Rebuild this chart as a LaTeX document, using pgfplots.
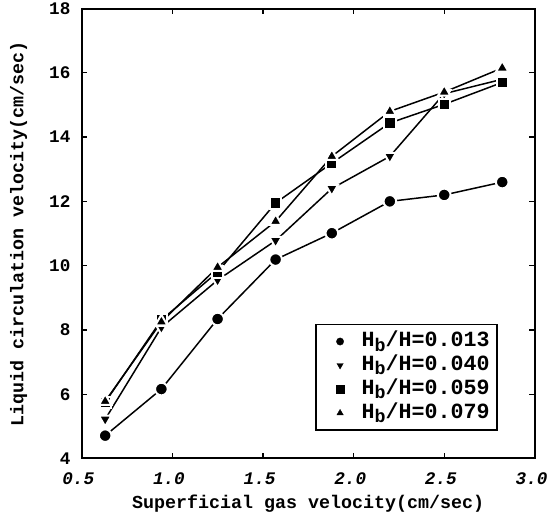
\documentclass[border={2.5pt 1.3pt -3.2pt -2pt}]{standalone}
\usepackage{fontspec}
\setmainfont{Liberation Mono}
\usepackage{pgfplots}
\pgfplotsset{compat=1.18}
\newcommand{\Hb}{H{\fontsize{11}{11}\selectfont\raisebox{-0.45ex}{b}}/H}
\begin{document}
\fontsize{10.6}{12}\selectfont\bfseries
\begin{tikzpicture}
\begin{axis}[
    width=272pt, height=270pt, scale only axis,
    xmin=0.5, xmax=3.0, ymin=4, ymax=18,
    xtick={0.5,1.0,1.5,2.0,2.5,3.0},
    ytick={4,6,8,10,12,14,16,18},
    xticklabel style={/pgf/number format/.cd, fixed, fixed zerofill, precision=1,
        /tikz/.cd, yshift=-5pt, xshift=-2pt, font=\fontsize{10.6}{12}\selectfont\bfseries\itshape},
    yticklabel style={xshift=-3pt},
    /pgf/number format/assume math mode=true,
    tick align=inside,
    major tick length=3.5pt,
    axis line style={line width=1.2pt},
    tick style={line width=0.8pt, black},
    xlabel={Superficial gas velocity(cm/sec)},
    ylabel={Liquid circulation velocity(cm/sec)},
    xlabel style={at={(axis description cs:0.5,-0.101)}, anchor=center, font=\fontsize{11}{12}\selectfont\bfseries},
    ylabel style={at={(axis description cs:-0.139,0.5)}, anchor=center, font=\fontsize{11}{12}\selectfont\bfseries},
    legend style={at={(0.918,0.062)}, anchor=south east, draw=black, line width=0.8pt,
        font=\fontsize{13}{14}\selectfont\bfseries, row sep=0pt, inner sep=3pt,
        nodes={inner sep=1.5pt, text height=8.8pt, text depth=2.5pt}},
    legend cell align=left,
    legend image code/.code={
        \draw[#1, draw=none, mark size=2.2pt, every mark/.append style={draw=black, line width=0.2pt}]
            plot coordinates {(0.4cm,0cm)};
        \path[draw=none] (0,0) -- (0.8cm,0);},
    every axis plot/.append style={black, line width=0.9pt},
]
\addplot[mark=*, mark size=3.8pt, mark options={draw=white, fill=black, line width=1.2pt}]
    coordinates {(0.63,4.71) (0.94,6.16) (1.25,8.34) (1.57,10.19) (1.88,11.01) (2.2,12.0) (2.5,12.2) (2.82,12.6)};
\addplot[mark=triangle*, mark size=4.3pt, mark options={rotate=180, draw=white, fill=black, line width=1.2pt}]
    coordinates {(0.63,5.22) (0.94,8.08) (1.25,9.55) (1.57,10.78) (1.88,12.4) (2.2,13.4) (2.5,15.35) (2.82,15.8)};
\addplot[mark=square*, mark size=3.4pt, mark options={draw=white, fill=black, line width=1.2pt}]
    coordinates {(0.63,5.75) (0.94,8.31) (1.25,9.8) (1.57,11.95) (1.88,13.19) (2.2,14.44) (2.5,15.02) (2.82,15.7)};
\addplot[mark=triangle*, mark size=4.3pt, mark options={draw=white, fill=black, line width=1.2pt}]
    coordinates {(0.63,5.78) (0.94,8.25) (1.25,9.95) (1.57,11.38) (1.88,13.4) (2.2,14.8) (2.5,15.4) (2.82,16.15)};
\legend{\Hb=0.013, \Hb=0.040, \Hb=0.059, \Hb=0.079}
\end{axis}
\end{tikzpicture}
\end{document}
